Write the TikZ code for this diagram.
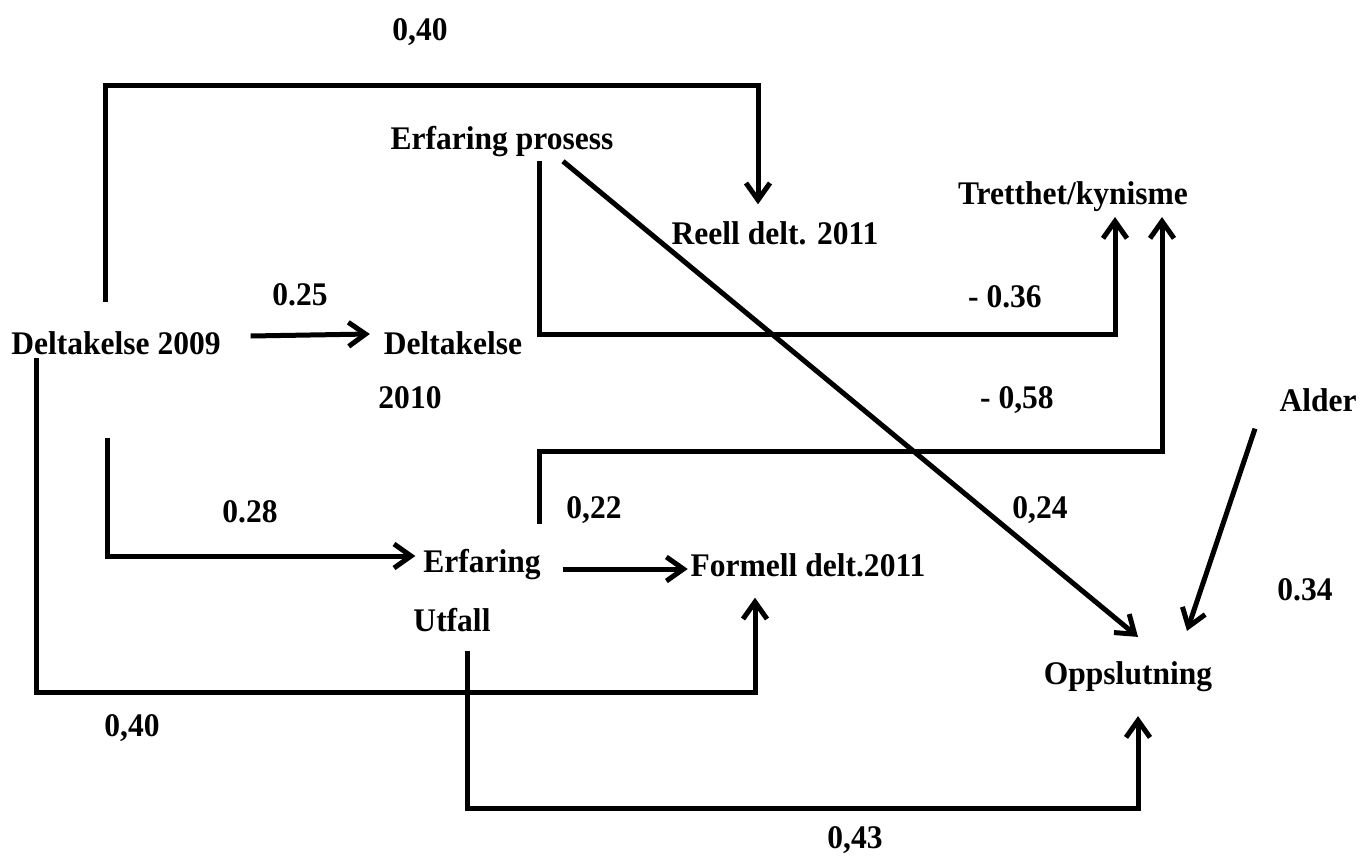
\documentclass[tikz,border=0pt]{standalone}
\usepackage{fontspec}
\setmainfont{Liberation Serif}[FakeStretch=0.955]
\usetikzlibrary{arrows.meta}

\begin{document}
\begin{tikzpicture}[x=1pt, y=-1pt,
    var/.style={font=\fontsize{33}{40}\selectfont\bfseries, inner sep=0pt, outer sep=0pt},
    coef/.style={var},
    link/.style={line width=5pt, -{Straight Barb[length=17pt, width=24pt]}}]
    % --- Canvas (same size as the reference) ---
    \useasboundingbox (0,0) rectangle (1360,862);

    % --- Variables ---
    \node[var] (ep)      at (502,142) {Erfaring prosess};
    \node[var] (reell)   at (775,233) {Reell delt. 2011};
    \node[var] (tk)      at (1073,197) {Tretthet/kynisme};
    \node[var] (d09)     at (116,343) {Deltakelse 2009};
    \node[var] (d10)     at (453,343) {Deltakelse};
    \node[var] (d10yr)   at (410,398) {2010};
    \node[var] (alder)   at (1318,400) {Alder};
    \node[var] (eu)      at (482,565) {Erfaring};
    \node[var] (utf)     at (452,620) {Utfall};
    \node[var] (formell) at (808,565) {Formell delt.2011};
    \node[var] (opp)     at (1128,677) {Oppslutning};

    % --- Coefficients ---
    \node[coef] (cTop)   at (420,32)  {0,40};
    \node[coef] (cDelt)  at (300,295) {0.25};
    \node[coef] (cTrA)   at (1005,297) {- 0.36};
    \node[coef] (cTrB)   at (1017,400) {- 0,58};
    \node[coef] (cUtf)   at (250,512) {0.28};
    \node[coef] (cForm)  at (594,510) {0,22};
    \node[coef] (cProc)  at (1040,510) {0,24};
    \node[coef] (cAlder) at (1305,590) {0.34};
    \node[coef] (cBot)   at (132,728) {0,40};
    \node[coef] (cOpp)   at (855,840) {0,43};

    % --- Paths ---
    % Deltakelse 2009 -> Reell delt. 2011
    \draw[link] ([xshift=-11pt,yshift=29pt]d09.north) -- ++(0,-217) -| ([xshift=-17pt,yshift=17pt]reell.north);
    % Deltakelse 2009 -> Deltakelse 2010
    \draw[link] ([xshift=30pt,yshift=7pt]d09.east) -- ([xshift=-14pt,yshift=9pt]d10.west);
    % Erfaring prosess -> Tretthet/kynisme
    \draw[link] ([xshift=37pt,yshift=-4pt]ep.south) -- ++(0,173) -| ([xshift=42pt,yshift=-5pt]tk.south);
    % Erfaring prosess -> Oppslutning
    \draw[link] ([xshift=61pt,yshift=-4pt]ep.south) -- ([xshift=10pt,yshift=25pt]opp.north);
    % Deltakelse 2009 -> Erfaring utfall
    \draw[link] ([xshift=-9pt,yshift=-83pt]d09.south) |- ([xshift=-8pt,yshift=9pt]eu.west);
    % Erfaring utfall -> Formell delt.2011
    \draw[link] ([xshift=22pt,yshift=-4pt]eu.east) -- ([xshift=-3pt,yshift=-4pt]formell.west);
    % Erfaring utfall -> Tretthet/kynisme
    \draw[link] ([xshift=57pt,yshift=26pt]eu.north) -- ++(0,-72) -| ([xshift=89pt,yshift=-5pt]tk.south);
    % Deltakelse 2009 -> Formell delt.2011
    \draw[link] ([xshift=-80pt,yshift=-3pt]d09.south) -- ++(0,335) -| ([xshift=-53pt,yshift=-21pt]formell.south);
    % Erfaring utfall -> Oppslutning
    \draw[link] ([xshift=15pt,yshift=-19pt]utf.south) -- ++(0,158) -| ([xshift=10pt,yshift=-24pt]opp.south);
    % Alder -> Oppslutning
    \draw[link] ([xshift=-63pt,yshift=-17pt]alder.south) -- ([xshift=59pt,yshift=31pt]opp.north);

\end{tikzpicture}
\end{document}
